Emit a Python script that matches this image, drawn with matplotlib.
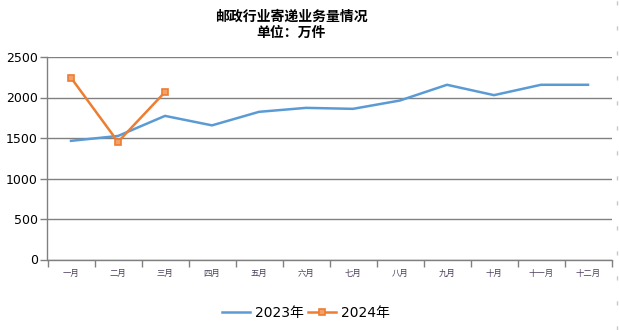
import numpy as np
import matplotlib.pyplot as plt
from matplotlib.lines import Line2D

plt.rcParams['font.family'] = ['DejaVu Sans', 'Noto Sans CJK SC']

# ------------------------------
# 数据
# ------------------------------
months = ['一月', '二月', '三月', '四月', '五月', '六月',
          '七月', '八月', '九月', '十月', '十一月', '十二月']
vol_2023 = [1465, 1525, 1773, 1656, 1823, 1872, 1860, 1963, 2157, 2029, 2157, 2157]
vol_2024 = [2244, 1452, 2067]

title = '邮政行业寄递业务量情况\n单位：万件'

# ------------------------------
# 绘图
# ------------------------------
fig = plt.figure(figsize=(6.19, 3.30), dpi=100)
ax = fig.add_axes([47.5 / 619, 1 - 259.5 / 330, (611.5 - 47.5) / 619, (259.5 - 57) / 330])

x = np.arange(len(months))
ax.plot(x, vol_2023, color='#5b9bd5', linewidth=1.8, label='2023年')
ax.plot(np.arange(len(vol_2024)), vol_2024, color='#ed7d31', linewidth=1.8,
        marker='s', markersize=4.5, markerfacecolor='#f3a06a',
        markeredgecolor='#ed7d31', markeredgewidth=1.2, label='2024年')

ax.set_xlim(-0.5, len(months) - 0.5)
ax.set_ylim(0, 2500)
ax.set_yticks(range(0, 2501, 500))
ax.tick_params(axis='y', labelsize=9, length=5, color='#808080', width=1, pad=2)
ax.yaxis.grid(True, color='#808080', linewidth=1)
ax.set_axisbelow(True)

# 类别标签居中，刻度线在类别之间
ax.set_xticks(x)
ax.set_xticklabels(months, fontsize=6, color='#4a3d5c', family=['Noto Sans CJK SC'])
ax.set_xticks(np.arange(-0.5, len(months)), minor=True)
ax.tick_params(axis='x', which='major', length=0, pad=7)
ax.tick_params(axis='x', which='minor', length=5, color='#808080', width=1)

for side in ['top', 'right']:
    ax.spines[side].set_visible(False)
for side in ['left', 'bottom']:
    ax.spines[side].set_color('#808080')
    ax.spines[side].set_linewidth(1)

fig.text(291 / 619, 1 - 25 / 330, title, ha='center', va='center', fontsize=10,
         fontweight='bold', family=['Noto Sans CJK SC'], linespacing=1.25)

ax.legend(loc='center', bbox_to_anchor=(306 / 619, 1 - 313 / 330), bbox_transform=fig.transFigure,
          ncol=2, frameon=False, fontsize=10, handlelength=2.0, handletextpad=0.35,
          columnspacing=0.3, borderpad=0)

# 右侧虚线边框
fig.add_artist(Line2D([616.5 / 619, 616.5 / 619], [0, 1], transform=fig.transFigure,
                      color='#c8c8c8', linewidth=1, linestyle=(0, (3, 15))))

fig.savefig('out.png', dpi=100)
